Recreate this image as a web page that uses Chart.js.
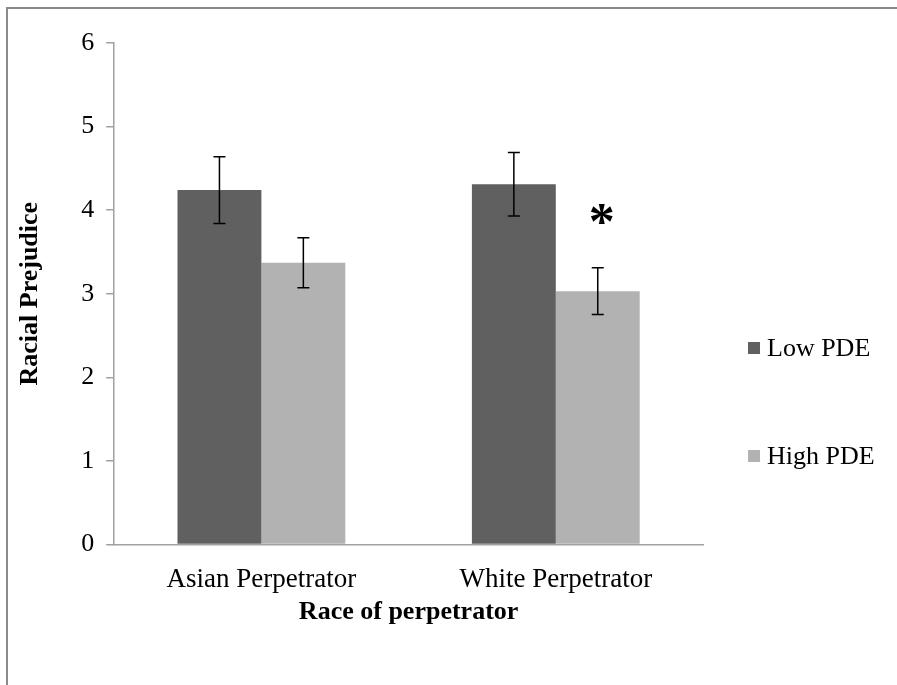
<!DOCTYPE html>
<html>
<head>
<meta charset="utf-8">
<script src="https://cdn.jsdelivr.net/npm/chart.js@4.4.0/dist/chart.umd.min.js"></script>
<style>
  body { margin: 0; background: #fff; }
  #frame { position: absolute; left: 6px; top: 7px; width: 900px; height: 690px;
           border-top: 2px solid #8a8a8a; border-left: 2px solid #8a8a8a; }
  #wrap { position: absolute; left: 0; top: 0; width: 897px; height: 685px; }
</style>
</head>
<body>
<div id="frame"></div>
<div id="wrap"><canvas id="prejudiceChart"></canvas></div>
<script>
// data
var categories = ['Asian Perpetrator', 'White Perpetrator'];
var lowPDE = [4.24, 4.31];
var highPDE = [3.37, 3.03];
var lowPDEErr = [0.40, 0.38];
var highPDEErr = [0.30, 0.28];
var highPDESig = [null, 3.96];   // where the * sits (value on y axis)
var yTicks = [0, 1, 2, 3, 4, 5, 6];

var serif = "'Liberation Serif', 'Times New Roman', serif";
Chart.defaults.font.family = serif;
Chart.defaults.color = '#000';

// error bars drawn from the arrays above
var errorBars = {
  id: 'errorBars',
  afterDatasetsDraw: function(chart) {
    var ctx = chart.ctx;
    var yScale = chart.scales.y;
    chart.data.datasets.forEach(function(ds, di) {
      var meta = chart.getDatasetMeta(di);
      meta.data.forEach(function(bar, i) {
        var v = ds.data[i];
        var e = ds.errors[i];
        var top = yScale.getPixelForValue(v + e);
        var bot = yScale.getPixelForValue(v - e);
        ctx.save();
        ctx.strokeStyle = '#000';
        ctx.lineWidth = 1.5;
        ctx.beginPath();
        ctx.moveTo(bar.x, top); ctx.lineTo(bar.x, bot);
        ctx.moveTo(bar.x - 6, top); ctx.lineTo(bar.x + 6, top);
        ctx.moveTo(bar.x - 6, bot); ctx.lineTo(bar.x + 6, bot);
        ctx.stroke();
        ctx.restore();
        if (ds.sig && ds.sig[i] != null) {
          ctx.save();
          ctx.fillStyle = '#000';
          ctx.font = 'bold 52px ' + serif;
          ctx.textAlign = 'center';
          ctx.textBaseline = 'middle';
          ctx.fillText('*', bar.x + 4, yScale.getPixelForValue(ds.sig[i]) + 12);
          ctx.restore();
        }
      });
    });
  }
};

// legend on the right with the wide gap of the original
var sideLegend = {
  id: 'sideLegend',
  afterDraw: function(chart) {
    var ctx = chart.ctx;
    var area = chart.chartArea;
    var offsets = [305, 413];
    chart.data.datasets.forEach(function(ds, di) {
      var y = area.top + offsets[di];
      var x = area.right + 45;
      ctx.save();
      ctx.fillStyle = ds.backgroundColor;
      ctx.fillRect(x, y - 6, 12, 12);
      ctx.fillStyle = '#000';
      ctx.font = '26px ' + serif;
      ctx.textBaseline = 'middle';
      ctx.fillText(ds.label, x + 19, y + 1);
      ctx.restore();
    });
  }
};

new Chart(document.getElementById('prejudiceChart'), {
  type: 'bar',
  data: {
    labels: categories,
    datasets: [{
      label: 'Low PDE',
      data: lowPDE,
      errors: lowPDEErr,
      backgroundColor: '#606060'
    }, {
      label: 'High PDE',
      data: highPDE,
      errors: highPDEErr,
      sig: highPDESig,
      backgroundColor: '#b2b2b2'
    }]
  },
  plugins: [errorBars, sideLegend],
  options: {
    responsive: true,
    maintainAspectRatio: false,
    animation: false,
    layout: { padding: { left: 5, right: 194, top: 43, bottom: 57 } },
    datasets: { bar: { barPercentage: 1, categoryPercentage: 0.57 } },
    plugins: {
      legend: { display: false },
      tooltip: { enabled: false }
    },
    scales: {
      x: {
        grid: { display: false },
        border: { color: '#a0a0a0', width: 1.5 },
        ticks: { font: { size: 27 }, padding: 11 },
        title: { display: true, text: 'Race of perpetrator', font: { size: 26, weight: 'bold' }, padding: { top: -10, bottom: 0 } }
      },
      y: {
        min: 0,
        max: 6,
        afterBuildTicks: function(axis) {
          axis.ticks = yTicks.map(function(v) { return { value: v }; });
        },
        grid: { drawOnChartArea: false, tickLength: 8, color: '#a0a0a0', lineWidth: 1.5 },
        border: { color: '#a0a0a0', width: 1.5 },
        ticks: { font: { size: 26 }, padding: 12 },
        title: { display: true, text: 'Racial Prejudice', font: { size: 26, weight: 'bold' }, padding: { top: 10, bottom: 23 } }
      }
    }
  }
});
</script>
</body>
</html>
